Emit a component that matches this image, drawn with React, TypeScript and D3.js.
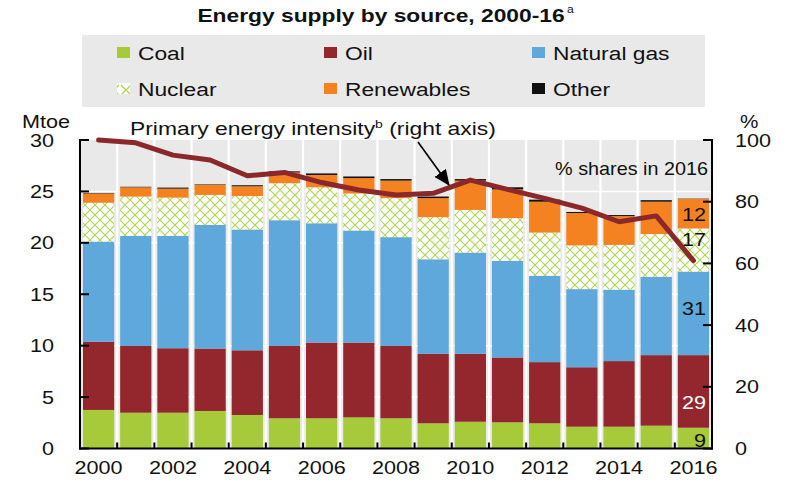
import React from "react";
import * as d3 from "d3";

const years = [2000, 2001, 2002, 2003, 2004, 2005, 2006, 2007, 2008, 2009, 2010, 2011, 2012, 2013, 2014, 2015, 2016];
const coal = [3.75, 3.48, 3.48, 3.65, 3.26, 2.94, 2.94, 3.03, 2.94, 2.45, 2.6, 2.55, 2.45, 2.12, 2.12, 2.22, 2.02];
const oil = [6.64, 6.49, 6.27, 6.07, 6.29, 7.03, 7.36, 7.27, 7.03, 6.75, 6.6, 6.3, 5.95, 5.78, 6.38, 6.86, 7.06];
const gas = [9.73, 10.7, 10.92, 12.02, 11.75, 12.23, 11.6, 10.9, 10.58, 9.2, 9.85, 9.4, 8.4, 7.6, 6.95, 7.62, 8.12];
const nuclear = [3.78, 3.83, 3.73, 2.92, 3.25, 3.6, 3.5, 3.6, 3.8, 4.1, 4.15, 4.15, 4.2, 4.25, 4.35, 4.15, 4.2];
const renewables = [0.9, 0.9, 0.87, 0.97, 0.95, 1.05, 1.2, 1.5, 1.7, 1.85, 2.85, 2.8, 3.0, 3.15, 2.8, 3.15, 2.87];
const other = [0.05, 0.05, 0.1, 0.05, 0.1, 0.1, 0.15, 0.15, 0.15, 0.15, 0.15, 0.2, 0.2, 0.1, 0.1, 0.15, 0.03];
const intensity = [100, 99.1, 95.1, 93.5, 88.4, 89.5, 86.2, 83.8, 82.2, 82.7, 87.0, 84.0, 81.1, 77.9, 73.5, 75.4, 60.9];
const leftTicks = [0, 5, 10, 15, 20, 25, 30];
const rightTicks = [0, 20, 40, 60, 80, 100];
const shareLabels = ["9", "29", "31", "17", "12"];
const seriesNames = ["Coal", "Oil", "Natural gas", "Nuclear", "Renewables", "Other"];

const COLORS: Record<string, string> = {
  Coal: "#a6ca3a",
  Oil: "#93272d",
  "Natural gas": "#5ea8dc",
  Nuclear: "url(#nuc)",
  Renewables: "#f58220",
  Other: "#111111",
};

const FONT = "'Liberation Sans', Arial, Helvetica, sans-serif";
const SX = 1.2;

function T(props: any) {
  const { x, y, size = 18, anchor = "start", weight = "normal", fill = "#111", sx = SX, children } = props;
  return (
    <text
      transform={`translate(${x},${y}) scale(${sx},1)`}
      fontSize={size}
      textAnchor={anchor}
      fontWeight={weight}
      fill={fill}
      fontFamily={FONT}
    >
      {children}
    </text>
  );
}

export default function App() {
  const W = 788, H = 483;
  const left = 80, right = 712, top = 140, bottom = 448.5;

  const x = d3.scaleBand<number>().domain(years).range([left, right]).padding(0);
  const step = x.step();
  const barPad = step * 0.08;
  const barW = step * 0.84;
  const y = d3.scaleLinear().domain([0, 30]).range([bottom, top]);
  const yR = d3.scaleLinear().domain([0, 100]).range([bottom, top]);

  const table = years.map((yr, i) => ({
    year: yr,
    Coal: coal[i],
    Oil: oil[i],
    "Natural gas": gas[i],
    Nuclear: nuclear[i],
    Renewables: renewables[i],
    Other: other[i],
  }));
  const stacked = d3.stack<any>().keys(seriesNames)(table);

  const line = d3
    .line<number>()
    .x((_, i) => (x(years[i]) as number) + step / 2)
    .y((d) => yR(d));

  const boundaries = d3.range(1, years.length).map((i) => left + i * step);
  const last = years.length - 1;
  const lastX = (x(years[last]) as number) + barPad + barW - 3;

  const legendCols = [117, 324, 532];
  const legendRows = [53, 89];

  return (
    <svg
      width={W}
      height={H}
      viewBox={`0 0 ${W} ${H}`}
      style={{ position: "absolute", left: 0, top: 0, background: "#fff" }}
    >
      <defs>
        <pattern id="nuc" patternUnits="userSpaceOnUse" width={10} height={10}>
          <rect width={10} height={10} fill="#ffffff" />
          <path d="M0,0 L10,10 M10,0 L0,10" stroke="#acd452" strokeWidth={1.1} />
        </pattern>
        <pattern id="nucL" patternUnits="userSpaceOnUse" width={12} height={12}>
          <rect width={12} height={12} fill="#ffffff" />
          <path d="M1,1 L11,11 M11,1 L1,11" stroke="#acd452" strokeWidth={1.2} />
        </pattern>
        <marker id="arrow" viewBox="0 0 10 10" refX={9} refY={5} markerWidth={9} markerHeight={9} markerUnits="userSpaceOnUse" orient="auto">
          <path d="M0,0 L10,5 L0,10 z" fill="#000" />
        </marker>
        <marker id="arrowB" viewBox="0 0 16 14" refX={15} refY={7} markerWidth={16} markerHeight={14} markerUnits="userSpaceOnUse" orient="auto">
          <path d="M0,0 L16,7 L0,14 z" fill="#000" />
        </marker>
      </defs>

      {/* Title */}
      <T x={381} y={22} size={19} anchor="middle" weight="bold" sx={1.2}>
        Energy supply by source, 2000-16
      </T>
      <T x={567} y={13} size={11} sx={1.1}>a</T>

      {/* Legend */}
      <rect x={82} y={35} width={623} height={72} fill="#e9e9e9" />
      {seriesNames.map((name, i) => {
        const cx = legendCols[i % 3];
        const cy = legendRows[Math.floor(i / 3)];
        return (
          <g key={name}>
            <rect
              x={cx}
              y={cy - 6}
              width={13}
              height={11}
              fill={name === "Nuclear" ? "url(#nucL)" : COLORS[name]}
            />
            <T x={cx + 21} y={cy + 7} size={19}>
              {name}
            </T>
          </g>
        );
      })}

      {/* Plot background */}
      <rect x={left} y={top} width={right - left} height={bottom - top} fill="#e9e9e9" />
      {leftTicks.slice(1, -1).map((t) => (
        <line key={"h" + t} x1={left} x2={right} y1={y(t)} y2={y(t)} stroke="#fff" strokeWidth={1.5} />
      ))}
      {boundaries.map((b, i) => (
        <line key={"v" + i} x1={b} x2={b} y1={top} y2={bottom} stroke="#fff" strokeWidth={2.2} />
      ))}

      {/* Bars */}
      {stacked.map((s) => (
        <g key={s.key} fill={COLORS[s.key]}>
          {s.map((d, i) => (
            <rect
              key={i}
              x={(x(years[i]) as number) + barPad}
              y={y(d[1])}
              width={barW}
              height={Math.max(0, y(d[0]) - y(d[1]))}
            />
          ))}
        </g>
      ))}

      {/* Intensity line */}
      <path d={line(intensity) || ""} fill="none" stroke="#8b282b" strokeWidth={5} strokeLinejoin="round" strokeLinecap="round" />

      {/* Axes */}
      <line x1={left} x2={left} y1={top - 1} y2={bottom + 1} stroke="#000" strokeWidth={2} />
      <line x1={right} x2={right} y1={top - 1} y2={bottom + 1} stroke="#000" strokeWidth={2} />
      <line x1={left - 1} x2={right + 1} y1={bottom} y2={bottom} stroke="#000" strokeWidth={2} />
      {leftTicks.map((t) => (
        <g key={"lt" + t}>
          <line x1={left} x2={left + 9} y1={y(t)} y2={y(t)} stroke="#000" strokeWidth={2} />
          <T x={54} y={y(t) + 6.5} size={18} anchor="end">
            {t}
          </T>
        </g>
      ))}
      {rightTicks.map((t) => (
        <g key={"rt" + t}>
          <line x1={right - 9} x2={right} y1={yR(t)} y2={yR(t)} stroke="#000" strokeWidth={2} />
          <T x={735} y={yR(t) + 6.5} size={18}>
            {t}
          </T>
        </g>
      ))}
      {boundaries.map((b, i) => (
        <line key={"bt" + i} x1={b} x2={b} y1={bottom - 6} y2={bottom} stroke="#000" strokeWidth={2} />
      ))}
      {years.filter((yr) => yr % 2 === 0).map((yr) => (
        <T key={"yl" + yr} x={(x(yr) as number) + step / 2} y={474} size={18} anchor="middle">
          {yr}
        </T>
      ))}

      {/* Axis titles */}
      <T x={22} y={128} size={18} sx={1.2}>Mtoe</T>
      <T x={740} y={128} size={18} sx={1.15}>%</T>

      {/* Annotation */}
      <T x={130} y={135} size={18} sx={1.27}>
        Primary energy intensity
        <tspan fontSize={11} dy={-7}>b</tspan>
        <tspan dy={7}> (right axis)</tspan>
      </T>
      <line x1={418} y1={142} x2={449} y2={185} stroke="#000" strokeWidth={1.6} markerEnd="url(#arrowB)" />

      <T x={708} y={175} size={18} anchor="end" sx={1.1}>% shares in 2016</T>

      {/* 2016 share labels */}
      <T x={lastX} y={y(22.8) + 7} size={18} anchor="end">{shareLabels[4]}</T>
      <T x={lastX} y={y(20.4) + 7} size={18} anchor="end">{shareLabels[3]}</T>
      <T x={lastX} y={y(13.7) + 7} size={18} anchor="end">{shareLabels[2]}</T>
      <T x={lastX} y={y(4.5) + 7} size={18} anchor="end" fill="#fff">{shareLabels[1]}</T>
      <T x={lastX} y={y(0.8) + 7} size={18} anchor="end">{shareLabels[0]}</T>
    </svg>
  );
}
